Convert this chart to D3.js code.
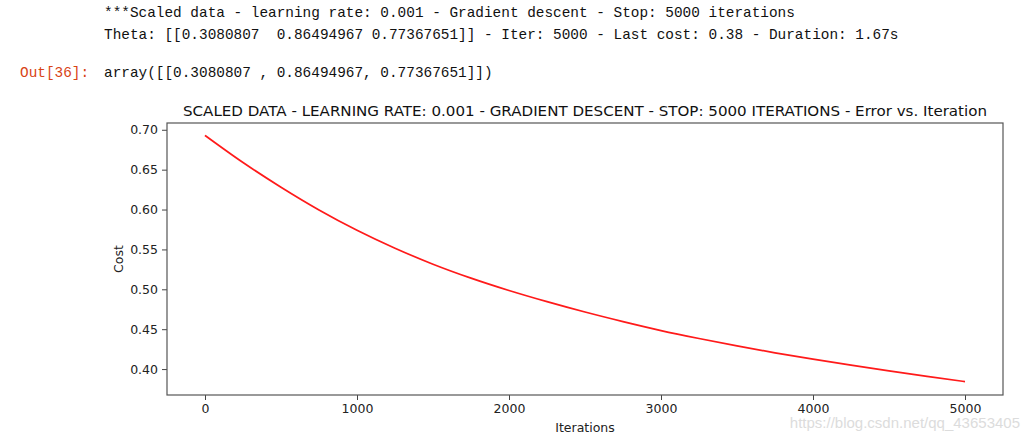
<!DOCTYPE html>
<html><head><meta charset="utf-8">
<script src="https://cdn.jsdelivr.net/npm/d3@7"></script>
<style>
body{margin:0;background:#fff;}
svg{display:block;}
.mono{font-family:"Liberation Mono","DejaVu Sans Mono",monospace;font-size:14.4px;fill:#111;}
.tick text{font-family:"DejaVu Sans",sans-serif;font-size:12.5px;fill:#222;}
</style></head>
<body>
<svg id="c" width="1030" height="441"></svg>
<script>
const iterations = [0,250,500,750,1000,1250,1500,1750,2000,2250,2500,2750,3000,3250,3500,3750,4000,4250,4500,4750,5000];
const cost = [0.693,0.659,0.628,0.5995,0.574,0.5515,0.5315,0.514,0.4985,0.4845,0.4715,0.4595,0.4483,0.4383,0.429,0.4204,0.4124,0.4049,0.3977,0.3908,0.3843];
const xTicks = [0,1000,2000,3000,4000,5000];
const yTicks = [0.40,0.45,0.50,0.55,0.60,0.65,0.70];
const outputLines = [
  "***Scaled data - learning rate: 0.001 - Gradient descent - Stop: 5000 iterations",
  "Theta: [[0.3080807  0.86494967 0.77367651]] - Iter: 5000 - Last cost: 0.38 - Duration: 1.67s"
];
const outPrompt = "Out[36]:";
const outValue = "array([[0.3080807 , 0.86494967, 0.77367651]])";
const title = "SCALED DATA - LEARNING RATE: 0.001 - GRADIENT DESCENT - STOP: 5000 ITERATIONS - Error vs. Iteration";
const watermark = "https://blog.csdn.net/qq_43653405";

const svg = d3.select("#c");
const L=167,R=1003,T=123,B=395;

// notebook text
svg.selectAll("text.out").data(outputLines).enter().append("text")
  .attr("class","mono").attr("x",104).attr("y",(d,i)=>17+i*21.5)
  .attr("xml:space","preserve").style("white-space","pre").text(d=>d);
svg.append("text").attr("class","mono").attr("x",20).attr("y",77)
  .style("fill","#d84315").text(outPrompt);
svg.append("text").attr("class","mono").attr("x",104).attr("y",77).text(outValue);

const x = d3.scaleLinear().domain([-250,5250]).range([L,R]);
const y = d3.scaleLinear().domain([0.3675,0.7085]).range([B,T]);

const gx = svg.append("g").attr("transform",`translate(0,${B})`)
  .call(d3.axisBottom(x).tickValues(xTicks).tickFormat(d3.format("d")).tickSize(5).tickPadding(4));
const gy = svg.append("g").attr("transform",`translate(${L},0)`)
  .call(d3.axisLeft(y).tickValues(yTicks).tickFormat(d3.format(".2f")).tickSize(5).tickPadding(4));
[gx,gy].forEach(g=>{g.select(".domain").remove(); g.selectAll(".tick line").attr("stroke","#444");});

svg.append("rect").attr("x",L).attr("y",T).attr("width",R-L).attr("height",B-T)
  .attr("fill","none").attr("stroke","#555").attr("stroke-width",1.2);

svg.append("path").datum(iterations.map((d,i)=>[d,cost[i]]))
  .attr("fill","none").attr("stroke","#ff1a1a").attr("stroke-width",1.7)
  .attr("d",d3.line().x(d=>x(d[0])).y(d=>y(d[1])).curve(d3.curveMonotoneX));

svg.append("text").attr("x",(L+R)/2).attr("y",116).attr("text-anchor","middle")
  .attr("textLength",804).attr("lengthAdjust","spacingAndGlyphs")
  .style("font-family","DejaVu Sans, sans-serif").style("font-size","14.5px").style("fill","#111").text(title);

svg.append("text").attr("x",(L+R)/2).attr("y",432).attr("text-anchor","middle")
  .style("font-family","DejaVu Sans, sans-serif").style("font-size","12.5px").style("fill","#222").text("Iterations");
svg.append("text").attr("transform",`translate(123,${(T+B)/2}) rotate(-90)`).attr("text-anchor","middle")
  .style("font-family","DejaVu Sans, sans-serif").style("font-size","12.5px").style("fill","#222").text("Cost");

svg.append("text").attr("x",1020).attr("y",428).attr("text-anchor","end")
  .style("font-family","Liberation Sans, Arial, sans-serif").style("font-size","15px").style("fill","#dcdcdc").text(watermark);
</script>
</body></html>
